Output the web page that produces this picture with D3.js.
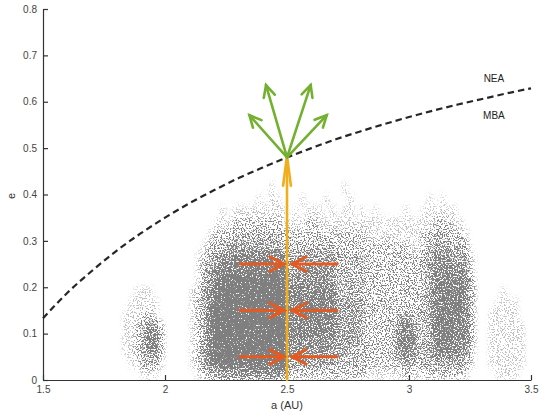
<!DOCTYPE html>
<html><head><meta charset="utf-8">
<script src="https://cdn.jsdelivr.net/npm/d3@7"></script>
<style>
html,body{margin:0;padding:0;background:#fff;}
text{font-family:"Liberation Sans",Arial,Helvetica,sans-serif;}
</style></head>
<body><svg id="chart" width="545" height="414"></svg>
<script>
// ---- data ----
const xTicks = [1.5, 2, 2.5, 3, 3.5];
const xTickLabels = ["1.5", "2", "2.5", "3", "3.5"];
const yTicks = [0, 0.1, 0.2, 0.3, 0.4, 0.5, 0.6, 0.7, 0.8];
const yTickLabels = ["0", "0.1", "0.2", "0.3", "0.4", "0.5", "0.6", "0.7", "0.8"];

// density grid of asteroids (0-9), columns: a from 1.5 in 0.025 AU steps; rows: e in 0.025 steps, top row first
const gridA0 = 1.5, gridDA = 0.025, gridDE = 0.025;
const densityRows = [
 "0000000000 0000000000 0000000000 0000000000 0000000000 0000000000 0000000000 0000000000", // 0.425
 "0000000000 0000000000 0000000000 0000000100 0000000001 0000000000 0000000000 0000000000", // 0.400
 "0000000000 0000000000 0000000000 0000010110 0010001000 1000000000 0001010000 0000000000", // 0.375
 "0000000000 0000000000 0000000001 0111111111 0101110101 1010100001 0011111100 0000000000", // 0.350
 "0000000000 0000000000 0000000011 1222222221 1112211111 1111111111 1111222110 0000000000", // 0.325
 "0000000000 0000000000 0000000122 2333333332 2222222222 2221111111 1122333221 0000000000", // 0.300
 "0000000000 0000000000 0000001233 4444444443 3333333322 2222222222 1123444332 0000000000", // 0.275
 "0000000000 0000000000 0000012345 5666666665 3444444433 3332222222 2234555443 1000000000", // 0.250
 "0000000000 0000000000 0000013456 7777777777 4445555433 3332222222 2234566554 1000000000", // 0.225
 "0000000000 0000000000 0000013568 8999999998 4555555533 3332222222 2234667665 2000000000", // 0.200
 "0000000000 0000011100 0000124689 9999999999 5666666633 3332222222 2234677775 2000010000", // 0.175
 "0000000000 0000111110 0000124699 9999999999 6677776644 4432222222 2234677775 2000111100", // 0.150
 "0000000000 0001112210 0000124799 9999999999 6677776644 4432222234 3334777775 2001111100", // 0.125
 "0000000000 0001123552 0000124799 9999999999 6666666644 4432222356 5334777765 2001111110", // 0.100
 "0000000000 0001124662 0000124799 9999999999 5666666544 4432222366 6334677665 2001111110", // 0.075
 "0000000000 0001124552 0000124799 9999999999 5555555444 3332222356 5334666654 1001111110", // 0.050
 "0000000000 0000113331 0000124688 8888888888 4444444433 3332222234 3233444443 1001111110", // 0.025
 "0000000000 0000001110 0000012344 4555555554 2222222222 2221111112 2122222221 0000111100"  // 0.000
];

// NEA / MBA boundary q = 1.3 AU
const boundaryA = [1.5, 1.6, 1.7, 1.8, 1.9, 2.0, 2.1, 2.2, 2.3, 2.4, 2.5, 2.6, 2.7, 2.8, 2.9, 3.0, 3.1, 3.2, 3.3, 3.4, 3.5];
const boundaryE = [0.133, 0.188, 0.235, 0.278, 0.316, 0.35, 0.381, 0.409, 0.435, 0.458, 0.48, 0.5, 0.519, 0.536, 0.552, 0.567, 0.581, 0.594, 0.606, 0.618, 0.629];

const regionLabels = [{text: "NEA", a: 3.348, e: 0.651}, {text: "MBA", a: 3.348, e: 0.570}];

// arrows: [a_from, e_from, a_to, e_to]
const orangeArrow = [2.5, 0.0, 2.5, 0.483];
const redArrows = [
  [2.307, 0.25, 2.488, 0.25], [2.705, 0.25, 2.52, 0.25],
  [2.307, 0.15, 2.488, 0.15], [2.705, 0.15, 2.52, 0.15],
  [2.307, 0.05, 2.488, 0.05], [2.705, 0.05, 2.52, 0.05]
];
const greenArrows = [
  [2.5, 0.48, 2.346, 0.571], [2.5, 0.48, 2.414, 0.636],
  [2.5, 0.48, 2.597, 0.636], [2.5, 0.48, 2.663, 0.571]
];

// ---- chart ----
const svg = d3.select("#chart");
const x = d3.scaleLinear().domain([1.5, 3.5]).range([43, 531]);
const y = d3.scaleLinear().domain([0, 0.8]).range([380, 9]);

const defs = svg.append("defs");
const f = defs.append("filter").attr("id", "speckle")
  .attr("filterUnits", "userSpaceOnUse")
  .attr("x", 43).attr("y", 9).attr("width", 490).attr("height", 372)
  .attr("color-interpolation-filters", "sRGB");
f.append("feGaussianBlur").attr("in", "SourceGraphic").attr("stdDeviation", "2 3.5").attr("result", "blur");
f.append("feTurbulence").attr("type", "fractalNoise").attr("baseFrequency", 0.75)
  .attr("numOctaves", 2).attr("seed", 7).attr("result", "noise");
f.append("feColorMatrix").attr("in", "noise").attr("type", "matrix")
  .attr("values", "0 0 0 0 0  0 0 0 0 0  0 0 0 0 0  2.92 0 0 0 -1.175").attr("result", "nA");
f.append("feComposite").attr("in", "blur").attr("in2", "nA").attr("operator", "arithmetic")
  .attr("k1", 0).attr("k2", 4.5).attr("k3", -4.5).attr("k4", 0).attr("result", "th");
f.append("feFlood").attr("flood-color", "#7f7f7f").attr("result", "fl");
f.append("feComposite").attr("in", "fl").attr("in2", "th").attr("operator", "in");

// density cells
const cells = [];
const nRows = densityRows.length;
densityRows.forEach((row, r) => {
  const s = row.replace(/\s+/g, "");
  const eLow = (nRows - 1 - r) * gridDE;
  for (let i = 0; i < s.length; i++) {
    const d = +s[i];
    if (d > 0) cells.push({a0: gridA0 + i * gridDA, e0: eLow, d: d});
  }
});
const scat = svg.append("g").attr("filter", "url(#speckle)");
scat.append("rect").attr("x", 43).attr("y", 9).attr("width", 490).attr("height", 372).attr("fill", "#000").attr("fill-opacity", 0);
scat.selectAll("rect.cell").data(cells).enter().append("rect").attr("class", "cell")
  .attr("x", c => x(c.a0)).attr("y", c => y(c.e0 + gridDE))
  .attr("width", c => x(c.a0 + gridDA) - x(c.a0)).attr("height", c => y(c.e0) - y(c.e0 + gridDE))
  .attr("fill", "#000").attr("fill-opacity", c => c.d / 9);

// axes
const xAxis = d3.axisBottom(x).tickValues(xTicks).tickFormat((d, i) => xTickLabels[i]).tickSize(-5).tickSizeOuter(0).tickPadding(6);
const yAxis = d3.axisLeft(y).tickValues(yTicks).tickFormat((d, i) => yTickLabels[i]).tickSize(-5).tickSizeOuter(0).tickPadding(6);
const gx = svg.append("g").attr("transform", "translate(0,380)").call(xAxis);
const gy = svg.append("g").attr("transform", "translate(43,0)").call(yAxis);
[gx, gy].forEach(g => {
  g.select(".domain").attr("stroke", "#333").attr("stroke-width", 1.2);
  g.selectAll(".tick line").attr("stroke", "#333").attr("stroke-width", 1.2);
  g.selectAll(".tick text").attr("fill", "#444").style("font-size", "10px").style("font-family", "Liberation Sans, Arial, sans-serif");
});

svg.append("text").attr("x", 287).attr("y", 409).attr("text-anchor", "middle")
  .attr("fill", "#333").style("font-size", "11px").text("a (AU)");
svg.append("text").attr("transform", "translate(15,196) rotate(-90)").attr("text-anchor", "middle")
  .attr("fill", "#333").style("font-size", "11px").text("e");

// boundary
const bpts = boundaryA.map((a, i) => [a, boundaryE[i]]);
svg.append("path").datum(bpts)
  .attr("d", d3.line().x(d => x(d[0])).y(d => y(d[1])).curve(d3.curveMonotoneX))
  .attr("fill", "none").attr("stroke", "#262626").attr("stroke-width", 2.2).attr("stroke-dasharray", "6.5,4");

svg.selectAll("text.region").data(regionLabels).enter().append("text").attr("class", "region")
  .attr("x", d => x(d.a)).attr("y", d => y(d.e)).attr("text-anchor", "middle").attr("dy", "0.35em")
  .attr("fill", "#222").style("font-size", "10px").text(d => d.text);

// arrows
function arrow(g, ax, color, width, headLen, halfAngleDeg) {
  const x1 = x(ax[0]), y1 = y(ax[1]), x2 = x(ax[2]), y2 = y(ax[3]);
  const ang = Math.atan2(y2 - y1, x2 - x1);
  const h = halfAngleDeg * Math.PI / 180;
  const p1 = [x2 - headLen * Math.cos(ang - h), y2 - headLen * Math.sin(ang - h)];
  const p2 = [x2 - headLen * Math.cos(ang + h), y2 - headLen * Math.sin(ang + h)];
  g.append("line").attr("x1", x1).attr("y1", y1).attr("x2", x2).attr("y2", y2)
    .attr("stroke", color).attr("stroke-width", width).attr("stroke-linecap", "round");
  g.append("path").attr("d", `M${p1[0]},${p1[1]}L${x2},${y2}L${p2[0]},${p2[1]}`)
    .attr("fill", "none").attr("stroke", color).attr("stroke-width", width)
    .attr("stroke-linecap", "round").attr("stroke-linejoin", "miter");
}
const ga = svg.append("g");
arrow(ga, orangeArrow, "#f0ae1e", 2.6, 30, 7.5);
redArrows.forEach(a => arrow(ga, a, "#e35a22", 3, 16, 27));
greenArrows.forEach(a => arrow(ga, a, "#74b030", 2.6, 13, 26));
</script></body></html>
